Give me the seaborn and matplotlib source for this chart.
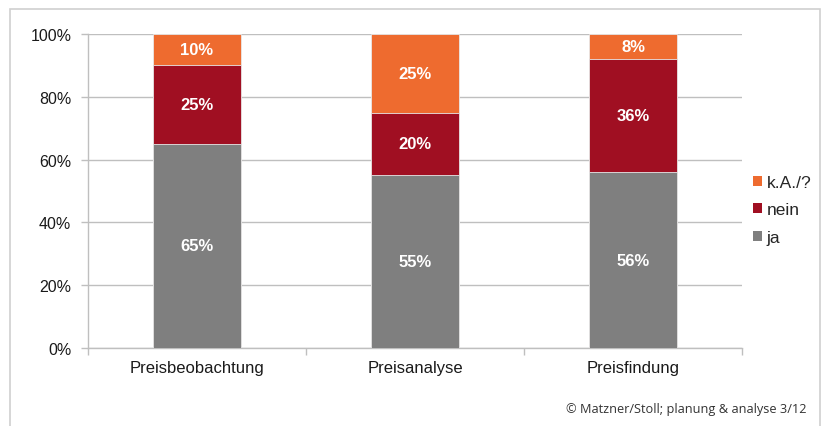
import matplotlib
matplotlib.use("Agg")
import matplotlib.pyplot as plt
import seaborn as sns
import pandas as pd
import numpy as np
from matplotlib.patches import Rectangle

categories = ["Preisbeobachtung", "Preisanalyse", "Preisfindung"]
ja = [65, 55, 56]
nein = [25, 20, 36]
ka = [10, 25, 8]
series_names = ["ja", "nein", "k.A./?"]
colors = {"ja": "#7F7F7F", "nein": "#A00F22", "k.A./?": "#EE6B2F"}
yticks = [0, 20, 40, 60, 80, 100]
ytick_labels = ["0%", "20%", "40%", "60%", "80%", "100%"]
source = "© Matzner/Stoll; planung & analyse 3/12"

sns.set_theme(style="white")
plt.rcParams["font.family"] = ["Liberation Sans", "DejaVu Sans"]

fig = plt.figure(figsize=(8.24, 4.27), dpi=100)
ax = fig.add_axes([88/824, 1-349/427, (742-88)/824, (349-35)/427])

# frame around chart
fig.patches.append(Rectangle((10/824, -0.05), (820-10)/824, 1-10/427+0.05,
                             transform=fig.transFigure, fill=False,
                             edgecolor="#D0D0D0", linewidth=1.2))

df = pd.DataFrame({"cat": categories, "ja": ja, "nein": nein, "ka": ka})
df["c_ja"] = df["ja"]
df["c_nein"] = df["ja"] + df["nein"]
df["c_ka"] = df["ja"] + df["nein"] + df["ka"]

for col, name in [("c_ka", "k.A./?"), ("c_nein", "nein"), ("c_ja", "ja")]:
    sns.barplot(data=df, x="cat", y=col, color=colors[name], width=0.4,
                ax=ax, saturation=1, label=name, edgecolor="#E8E8E8",
                linewidth=0.6, zorder=3)

handles, labels = ax.get_legend_handles_labels()
if ax.get_legend() is not None:
    ax.get_legend().remove()

# labels
for i in range(len(categories)):
    bottoms = [0, ja[i], ja[i] + nein[i]]
    for b, v in zip(bottoms, [ja[i], nein[i], ka[i]]):
        ax.text(i, b + v/2, f"{v}%", ha="center", va="center",
                color="white", fontsize=12, fontweight="bold", zorder=5)

ax.set_ylim(0, 100)
ax.set_xlim(-0.5, 2.5)
ax.set_yticks(yticks)
ax.set_yticklabels(ytick_labels, fontsize=11.5, color="#1a1a1a")
ax.yaxis.grid(True, color="#BFBFBF", linewidth=1, zorder=0)
ax.set_axisbelow(True)
ax.set_xlabel("")
ax.set_ylabel("")
for s in ["top", "right"]:
    ax.spines[s].set_visible(False)
for s in ["left", "bottom"]:
    ax.spines[s].set_color("#BFBFBF")
    ax.spines[s].set_linewidth(1)

ax.set_xticks([0, 1, 2])
ax.set_xticklabels(categories, fontsize=12, color="#1a1a1a")
ax.tick_params(axis="x", length=0, pad=9)
ax.tick_params(axis="y", length=5, color="#BFBFBF", width=1, pad=7, left=True)
# category boundary ticks
ax.set_xticks([-0.5, 0.5, 1.5, 2.5], minor=True)
ax.tick_params(axis="x", which="minor", length=5, color="#BFBFBF", width=1, bottom=True, direction="out")

# legend
order = ["k.A./?", "nein", "ja"]
hmap = dict(zip(labels, handles))
leg = fig.legend([hmap[o] for o in order], order, loc="center left",
                 bbox_to_anchor=(753/824, 1-211/427), frameon=False,
                 fontsize=12.5, handlelength=0.5, handleheight=0.5,
                 handletextpad=0.3, labelspacing=0.72, borderaxespad=0,
                 borderpad=0)
for h in leg.legend_handles:
    h.set_edgecolor("none")

fig.text(806/824, 1-410/427, source, ha="right", va="center",
         fontsize=9.2, family=["Open Sans", "DejaVu Sans"], color="#333333")

fig.savefig("out.png", dpi=100)
